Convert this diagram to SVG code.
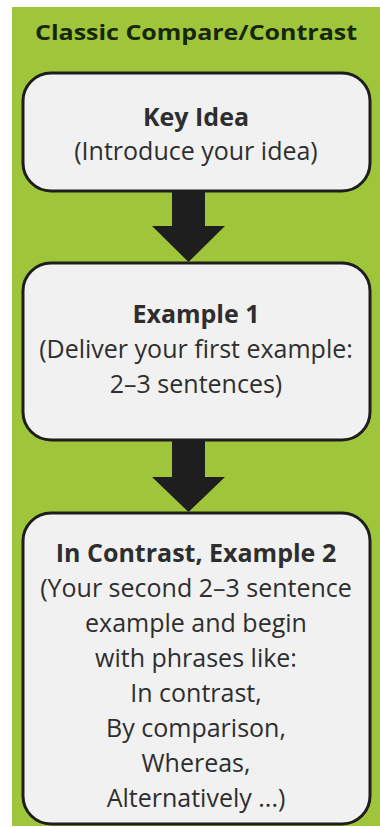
<svg xmlns="http://www.w3.org/2000/svg" width="380" height="827" viewBox="0 0 380 827">
  <style>
    .box { fill: #f1f1f1; stroke: #1e1e1e; stroke-width: 3; }
    .arrow { fill: #1e1e1e; }
    text { font-family: "Open Sans", "Liberation Sans", sans-serif; text-anchor: middle; fill: #2e2e2e; }
    .title { font-size: 22px; font-weight: 700; fill: #17260c; }
    .head { font-size: 25px; font-weight: 700; }
    .body { font-size: 25px; }
  </style>
  <rect x="0" y="0" width="380" height="827" fill="#ffffff"/>
  <rect x="12" y="7" width="368" height="819" fill="#9fc53b"/>
  <text class="title" x="196" y="40" textLength="322" lengthAdjust="spacingAndGlyphs">Classic Compare/Contrast</text>

  <g id="connectors">
    <polygon class="arrow" points="172,190 205,190 205,226 225,226 188.5,262 152,226 172,226"/>
    <polygon class="arrow" points="172,440 205,440 205,477 225,477 188.5,512 152,477 172,477"/>
  </g>

  <g id="key-idea">
    <rect class="box" x="23" y="73" width="347" height="118" rx="28"/>
    <text class="head" x="196" y="126">Key Idea</text>
    <text class="body" x="196" y="160">(Introduce your idea)</text>
  </g>

  <g id="example-1">
    <rect class="box" x="23" y="263" width="347" height="177" rx="28"/>
    <text class="head" x="196" y="323">Example 1</text>
    <text class="body" x="196" y="358">(Deliver your first example:</text>
    <text class="body" x="196" y="393">2–3 sentences)</text>
  </g>

  <g id="example-2">
    <rect class="box" x="23" y="513" width="347" height="311" rx="28"/>
    <text class="head" x="196" y="562">In Contrast, Example 2</text>
    <text class="body" x="196" y="597">(Your second 2–3 sentence</text>
    <text class="body" x="196" y="632">example and begin</text>
    <text class="body" x="196" y="667">with phrases like:</text>
    <text class="body" x="196" y="702">In contrast,</text>
    <text class="body" x="196" y="737">By comparison,</text>
    <text class="body" x="196" y="772">Whereas,</text>
    <text class="body" x="196" y="807">Alternatively ...)</text>
  </g>
</svg>
